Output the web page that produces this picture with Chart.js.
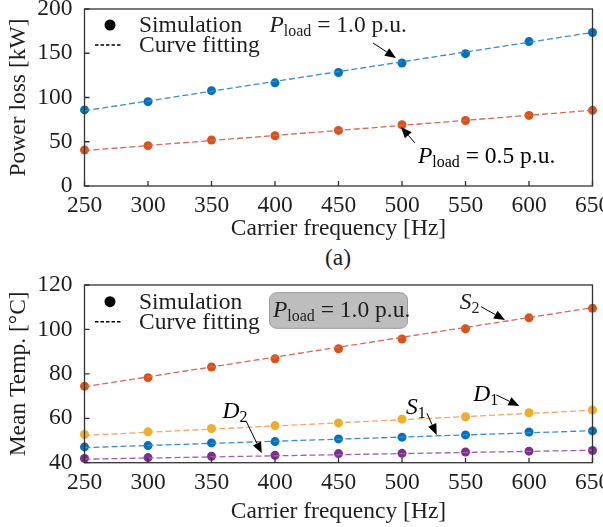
<!DOCTYPE html>
<html lang="en">
  <head>
    <meta charset="UTF-8" />
    <title>Carrier frequency vs power loss and temperature</title>
    <script src="https://cdn.jsdelivr.net/npm/chart.js"></script>
    <style>
      body {
        margin: 0;
        background: #fff;
      }
      .wrap {
        position: relative;
        width: 603px;
        height: 527px;
        overflow: hidden;
      }
      canvas {
        position: absolute;
        left: 0;
      }
      #lossChart {
        top: 0;
      }
      #tempChart {
        top: 270px;
      }
      .caption {
        position: absolute;
        top: 244px;
        left: 308px;
        width: 60px;
        text-align: center;
        font: 23.5px "Liberation Serif", "Times New Roman", serif;
        color: #1e1e1e;
      }
    </style>
  </head>
  <body>
    <div class="wrap">
      <canvas id="lossChart" width="603" height="243"></canvas>
      <div class="caption">(a)</div>
      <canvas id="tempChart" width="603" height="256"></canvas>
    </div>

    <script>
      // ---- data ----
      const freq = [250, 300, 350, 400, 450, 500, 550, 600, 650];
      const fitFreq = [250, 650];

      // (a) power loss [kW]
      const lossFull = [86, 95.3, 107.7, 116.6, 128.2, 139, 149.5, 163.2, 173.4];
      const lossHalf = [40.7, 45.6, 52, 56.8, 62.8, 69.2, 74, 79.8, 85.5];
      const lossFullFit = [85, 173.5];
      const lossHalfFit = [40, 85.6];
      const lossTicks = [0, 50, 100, 150, 200];

      // (b) mean temperature [degC], P_load = 1.0 p.u.
      const tempS2 = [74.4, 78.3, 83.1, 86.8, 91.3, 95.7, 100.3, 105.2, 109.5];
      const tempD1 = [52.7, 53.9, 55.4, 56.7, 57.9, 59.6, 60.7, 62.5, 63.7];
      const tempS1 = [47.1, 47.7, 48.9, 49.5, 50.7, 51.5, 52.5, 53.8, 54.3];
      const tempD2 = [41.9, 42.3, 42.9, 43.3, 44.1, 44.2, 44.8, 45.2, 45.5];
      const tempS2Fit = [74.2, 109.8];
      const tempD1Fit = [52.3, 63.6];
      const tempS1Fit = [46.8, 54.4];
      const tempD2Fit = [41.6, 45.6];
      const tempTicks = [40, 60, 80, 100, 120];

      const FONT = '"Liberation Serif", "Times New Roman", serif';
      const FS = 23.5;
      const INK = "#1e1e1e";

      const BLUE = "#0072bd";
      const ORANGE = "#d95319";
      const YELLOW = "#edb120";
      const PURPLE = "#7e2f8e";

      const pts = (xs, ys) => xs.map((x, i) => ({ x: x, y: ys[i] }));

      function simSet(values, color) {
        return {
          data: pts(freq, values),
          showLine: false,
          pointRadius: 4.5,
          pointBorderWidth: 0,
          pointBackgroundColor: color,
          clip: false,
        };
      }

      function fitSet(values, color) {
        return {
          data: pts(fitFreq, values),
          showLine: true,
          borderColor: color,
          borderWidth: 1.3,
          borderDash: [6, 3],
          pointRadius: 0,
          clip: false,
        };
      }

      // text with italic / subscript runs
      function rich(ctx, x, y, parts) {
        let cx = x;
        ctx.textAlign = "left";
        ctx.textBaseline = "middle";
        for (const [t, st] of parts) {
          const size = st === "s" ? FS * 0.68 : FS;
          ctx.font = (st === "i" ? "italic " : "") + size + "px " + FONT;
          ctx.fillText(t, cx, st === "s" ? y + FS * 0.24 : y);
          cx += ctx.measureText(t).width;
        }
      }

      function arrow(ctx, x1, y1, x2, y2) {
        const a = Math.atan2(y2 - y1, x2 - x1);
        const len = 11, half = 4.5;
        ctx.beginPath();
        ctx.moveTo(x1, y1);
        ctx.lineTo(x2 - len * Math.cos(a), y2 - len * Math.sin(a));
        ctx.strokeStyle = "#000";
        ctx.lineWidth = 1;
        ctx.setLineDash([]);
        ctx.stroke();
        ctx.beginPath();
        ctx.moveTo(x2, y2);
        ctx.lineTo(x2 - len * Math.cos(a) - half * Math.sin(a), y2 - len * Math.sin(a) + half * Math.cos(a));
        ctx.lineTo(x2 - len * Math.cos(a) + half * Math.sin(a), y2 - len * Math.sin(a) - half * Math.cos(a));
        ctx.closePath();
        ctx.fillStyle = "#000";
        ctx.fill();
      }

      function legend(ctx, top) {
        ctx.fillStyle = "#000";
        ctx.beginPath();
        ctx.arc(110, top, 5.5, 0, Math.PI * 2);
        ctx.fill();
        ctx.beginPath();
        ctx.moveTo(95, top + 20);
        ctx.lineTo(122, top + 20);
        ctx.strokeStyle = "#000";
        ctx.lineWidth = 1.5;
        ctx.setLineDash([3.5, 2]);
        ctx.stroke();
        ctx.setLineDash([]);
        ctx.fillStyle = INK;
        ctx.font = FS + "px " + FONT;
        ctx.textAlign = "left";
        ctx.textBaseline = "middle";
        ctx.fillText("Simulation", 139, top + 1);
        ctx.fillText("Curve fitting", 139, top + 21);
      }

      // box, inward ticks and annotations
      const framePlugin = {
        id: "frame",
        afterDraw(chart, args, opts) {
          const ctx = chart.ctx;
          const a = chart.chartArea;
          const xs = chart.scales.x, ys = chart.scales.y;
          ctx.save();
          ctx.strokeStyle = "#333";
          ctx.lineWidth = 1.3;
          ctx.setLineDash([]);
          ctx.beginPath();
          xs.ticks.forEach((t) => {
            const px = xs.getPixelForValue(t.value);
            ctx.moveTo(px, a.bottom);
            ctx.lineTo(px, a.bottom - 5);
          });
          ys.ticks.forEach((t) => {
            const py = ys.getPixelForValue(t.value);
            ctx.moveTo(a.left, py);
            ctx.lineTo(a.left + 5, py);
          });
          ctx.stroke();
          ctx.strokeRect(a.left, a.top, a.right - a.left, a.bottom - a.top);
          opts.draw(ctx);
          ctx.restore();
        },
      };

      function axes(yTicks, yTitle, xHeight) {
        return {
          x: {
            type: "linear",
            min: 250,
            max: 650,
            afterBuildTicks: (s) => { s.ticks = freq.map((v) => ({ value: v })); },
            afterFit: (s) => {
              s.height = xHeight;
              s.paddingLeft = 0;
              s.paddingRight = 0;
            },
            grid: { display: false, drawTicks: false },
            border: { display: false },
            ticks: { color: INK, font: { family: FONT, size: FS }, padding: 6, maxRotation: 0 },
            title: { display: true, text: "Carrier frequency [Hz]", color: INK, font: { family: FONT, size: FS }, padding: 0 },
          },
          y: {
            min: yTicks[0],
            max: yTicks[yTicks.length - 1],
            afterBuildTicks: (s) => { s.ticks = yTicks.map((v) => ({ value: v })); },
            afterFit: (s) => {
              s.width = 84.5;
              s.paddingTop = 0;
              s.paddingBottom = 0;
            },
            grid: { display: false, drawTicks: false },
            border: { display: false },
            ticks: { color: INK, font: { family: FONT, size: FS }, padding: 12 },
            title: { display: true, text: yTitle, color: INK, font: { family: FONT, size: FS }, padding: { top: 5, bottom: 0 } },
          },
        };
      }

      const baseOptions = (padTop) => ({
        responsive: false,
        animation: false,
        devicePixelRatio: 1,
        layout: { autoPadding: false, padding: { top: padTop, right: 10.5, left: 0, bottom: 0 } },
      });

      // (a) power loss
      new Chart(document.getElementById("lossChart"), {
        type: "scatter",
        data: {
          datasets: [
            fitSet(lossFullFit, "#3a8bd0"),
            fitSet(lossHalfFit, "#d4695b"),
            simSet(lossFull, BLUE),
            simSet(lossHalf, ORANGE),
          ],
        },
        options: {
          ...baseOptions(9),
          scales: axes(lossTicks, "Power loss [kW]", 57),
          plugins: {
            legend: { display: false },
            tooltip: { enabled: false },
            frame: {
              draw(ctx) {
                legend(ctx, 25);
                ctx.fillStyle = INK;
                rich(ctx, 269.5, 26, [["P", "i"], ["load", "s"], [" = 1.0 p.u.", ""]]);
                arrow(ctx, 373, 43, 396, 58);
                rich(ctx, 418, 157, [["P", "i"], ["load", "s"], [" = 0.5 p.u.", ""]]);
                arrow(ctx, 415, 143, 401, 127);
              },
            },
          },
        },
        plugins: [framePlugin],
      });

      // (b) mean temperature
      new Chart(document.getElementById("tempChart"), {
        type: "scatter",
        data: {
          datasets: [
            fitSet(tempS2Fit, "#d4695b"),
            fitSet(tempD1Fit, "#f5a46c"),
            fitSet(tempS1Fit, "#3a8bd0"),
            fitSet(tempD2Fit, "#9c5fb5"),
            simSet(tempS2, ORANGE),
            simSet(tempD1, YELLOW),
            simSet(tempS1, BLUE),
            simSet(tempD2, PURPLE),
          ],
        },
        options: {
          ...baseOptions(15),
          scales: axes(tempTicks, "Mean Temp. [\u00b0C]", 63.3),
          plugins: {
            legend: { display: false },
            tooltip: { enabled: false },
            frame: {
              draw(ctx) {
                legend(ctx, 31.7);
                // grey load box
                ctx.beginPath();
                ctx.roundRect(269.5, 22.7, 138, 35.6, 7);
                ctx.fillStyle = "#bdbdbd";
                ctx.fill();
                ctx.strokeStyle = "#9a9a9a";
                ctx.lineWidth = 1;
                ctx.stroke();
                ctx.fillStyle = INK;
                rich(ctx, 273, 41, [["P", "i"], ["load", "s"], [" = 1.0 p.u.", ""]]);
                // device labels
                rich(ctx, 459.8, 33, [["S", "i"], ["2", "s"]]);
                arrow(ctx, 481, 36.7, 505, 50);
                rich(ctx, 473.3, 125, [["D", "i"], ["1", "s"]]);
                arrow(ctx, 496.4, 125, 519.4, 136);
                rich(ctx, 406, 138.3, [["S", "i"], ["1", "s"]]);
                arrow(ctx, 427, 143.3, 436.7, 165);
                rich(ctx, 222.5, 141.7, [["D", "i"], ["2", "s"]]);
                arrow(ctx, 246.4, 151.7, 261.8, 183.3);
              },
            },
          },
        },
        plugins: [framePlugin],
      });
    </script>
  </body>
</html>
